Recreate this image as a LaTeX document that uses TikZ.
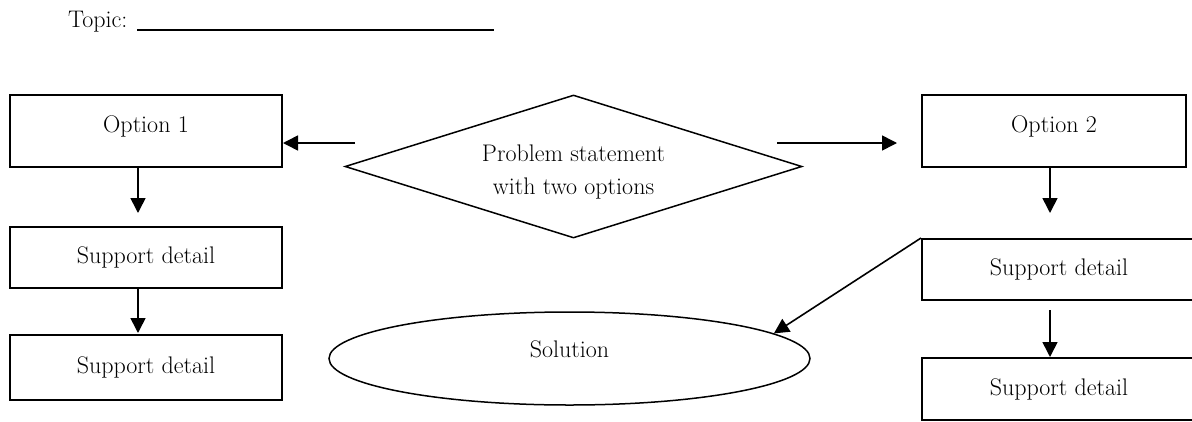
\documentclass[tikz,border=0pt]{standalone}
\usetikzlibrary{arrows.meta,shapes.geometric}
\begin{document}
\begin{tikzpicture}[x=1pt,y=-1pt,
  font=\fontsize{24}{33}\selectfont,
  boxnode/.style={draw,line width=2pt,rectangle,inner sep=0pt},
  arr/.style={line width=1.6pt,-{Triangle[length=15pt,width=15pt]}},
  optbox/.style={boxnode,text height=17pt,text depth=14pt}]
\useasboundingbox (0,0) rectangle (1192,421);
% topic
\node[anchor=base west,inner sep=0pt] (topic) at (68,27) {Topic: \rule[-4pt]{357pt}{2.2pt}};
% left column
\node[optbox,minimum width=272pt,minimum height=72pt] (opt1) at (146,131) {Option 1};
\node[boxnode,minimum width=272pt,minimum height=61pt] (s1) at (146,257.5) {Support detail};
\node[boxnode,minimum width=272pt,minimum height=65pt] (s2) at (146,367.5) {Support detail};
% diamond
\node[draw,shape=diamond,aspect=3.2,line width=1.5pt,minimum width=457pt,minimum height=143pt,inner sep=0pt]
  (prob) at (573.5,166.5)
  {\raisebox{-11.4pt}[0pt][0pt]{\begin{tabular}{@{}c@{}}Problem statement\\with two options\end{tabular}}};
% right column
\node[optbox,minimum width=264pt,minimum height=72pt] (opt2) at (1054,131) {Option 2};
\node[boxnode,minimum width=274pt,minimum height=61pt] (r1) at (1059,269.5) {Support detail};
\node[boxnode,minimum width=274pt,minimum height=62pt] (r2) at (1059,389) {Support detail};
% ellipse
\node[draw,shape=ellipse,line width=1.5pt,minimum width=481pt,minimum height=93pt,inner sep=0pt,
  text height=17pt,text depth=20pt] (sol) at (569.5,358.5) {Solution};
% free ends
\coordinate (la) at (355,143);
\coordinate (ra) at (777,143);
\coordinate (rb) at (897,143);
\coordinate (d1) at (138,213);
\coordinate (d2) at (138,333);
\coordinate (d3) at (1050,213);
\coordinate (d4) at (1050,310);
% connectors
\draw[arr] (la) -- (opt1.east |- la);
\draw[arr] (ra) -- (rb);
\draw[arr] (opt1.south -| d1) -- (d1);
\draw[arr] (s1.south -| d2) -- (d2);
\draw[arr] (opt2.south -| d3) -- (d3);
\draw[arr] (d4) -- (r2.north -| d4);
\draw[arr] (r1.north west) -- (sol.7);
\end{tikzpicture}
\end{document}
